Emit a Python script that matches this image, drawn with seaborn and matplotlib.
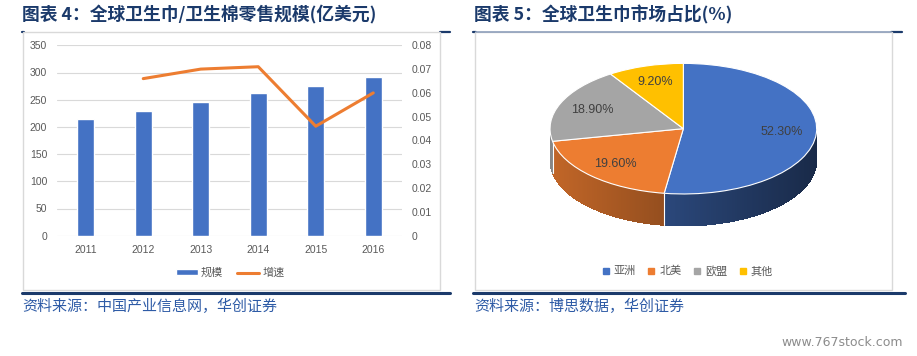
import matplotlib
matplotlib.use("Agg")
import numpy as np
import pandas as pd
import matplotlib.pyplot as plt
import seaborn as sns
from matplotlib.patches import Rectangle, Polygon
from matplotlib.lines import Line2D
from matplotlib.ticker import FuncFormatter, MultipleLocator

# data
years = ["2011", "2012", "2013", "2014", "2015", "2016"]
scale = [215, 229, 246, 263, 276, 291]          # 规模, 亿美元
growth_years = ["2012", "2013", "2014", "2015", "2016"]
growth = [0.066, 0.070, 0.071, 0.046, 0.060]    # 增速

regions = ["亚洲", "北美", "欧盟", "其他"]
shares = [52.3, 19.6, 18.9, 9.2]
colors = ["#4472C4", "#ED7D31", "#A5A5A5", "#FFC000"]

sns.set_style("white")
plt.rcParams["font.family"] = ["Liberation Sans", "Noto Sans CJK SC", "DejaVu Sans"]

W, H = 917, 356
fig = plt.figure(figsize=(W / 100, H / 100), dpi=100)


def fx(x):
    return x / W


def fy(y):
    return 1 - y / H


NAVY = "#1B3A6B"
CJK = ["Noto Sans CJK SC", "DejaVu Sans"]

# frames around the two panels (navy rule only shows beside the boxes)
for x0, x1 in [(22, 24), (440, 450), (473, 476), (891, 902)]:
    fig.add_artist(Line2D([fx(x0), fx(x1)], [fy(31.5), fy(31.5)], color=NAVY, lw=1.6, zorder=-3))
for x0, x1 in [(22, 450), (473, 905)]:
    fig.add_artist(Line2D([fx(x0), fx(x1)], [fy(292.5), fy(292.5)], color=NAVY, lw=2.2, zorder=-3))
for x0, x1 in [(23, 440), (475, 892)]:
    fig.add_artist(Rectangle((fx(x0), fy(290)), fx(x1) - fx(x0), fy(32) - fy(290),
                             transform=fig.transFigure, fc="white", ec="#D9D9D9", lw=1, zorder=-2))
fig.add_artist(Line2D([fx(476), fx(891)], [fy(32), fy(32)], color="#8FA0BC", lw=1.2, zorder=-1))

# titles and sources
fig.text(fx(22), fy(15), "图表 4：全球卫生巾/卫生棉零售规模(亿美元)", fontsize=12.8, fontweight="bold",
         color=NAVY, family=CJK, va="center", ha="left")
fig.text(fx(474), fy(15), "图表 5：全球卫生巾市场占比(%)", fontsize=12.8, fontweight="bold",
         color=NAVY, family=CJK, va="center", ha="left")
fig.text(fx(22), fy(306), "资料来源：中国产业信息网，华创证券", fontsize=10.8, color="#2E5BA6",
         style="italic", family=CJK, va="center", ha="left")
fig.text(fx(474), fy(306), "资料来源：博思数据，华创证券", fontsize=10.8, color="#2E5BA6",
         style="italic", family=CJK, va="center", ha="left")
fig.text(fx(903), fy(343), "www.767stock.com", fontsize=9, color="#8C8C8C", ha="right", va="center",
         family=["DejaVu Sans"])

# ---- bar + line chart ----
ax1 = fig.add_axes([fx(57), fy(235.7), fx(402) - fx(57), fy(45.3) - fy(235.7)])
ax1.patch.set_alpha(0)
df = pd.DataFrame({"year": years, "scale": scale})
sns.barplot(data=df, x="year", y="scale", color="#4472C4", width=0.3, saturation=1, ax=ax1)
ax1.set_xlim(-0.5, len(years) - 0.5)
ax1.set_ylim(0, 350)
ax1.yaxis.set_major_locator(MultipleLocator(50))
ax1.grid(axis="y", color="#D9D9D9", lw=0.8)
ax1.set_axisbelow(True)
ax1.set_xlabel("")
ax1.set_ylabel("")
for s in ax1.spines.values():
    s.set_visible(False)
ax1.tick_params(axis="y", length=0, labelsize=7.5, labelcolor="#595959", pad=7)
ax1.tick_params(axis="x", length=0, labelsize=7.5, labelcolor="#595959", pad=7)

ax2 = ax1.twinx()
ax2.patch.set_alpha(0)
sns.lineplot(x=[years.index(y) for y in growth_years], y=growth, ax=ax2, color="#ED7D31", lw=2.2)
ax2.set_ylim(0, 0.08)
ax2.yaxis.set_major_locator(MultipleLocator(0.01))
ax2.yaxis.set_major_formatter(FuncFormatter(lambda v, p: f"{v:.2f}" if abs(v) > 1e-9 else "0"))
ax2.grid(False)
for s in ax2.spines.values():
    s.set_visible(False)
ax2.tick_params(axis="y", length=0, labelsize=7.5, labelcolor="#595959", pad=7)

fig.legend([Rectangle((0, 0), 1, 1, fc="#4472C4"), Line2D([], [], color="#ED7D31", lw=2.2)],
           ["规模", "增速"], loc="center", bbox_to_anchor=(fx(230), fy(273)), ncol=2, frameon=False,
           fontsize=8, labelcolor="#595959", handlelength=2.0, handleheight=0.5,
           columnspacing=1.2, handletextpad=0.3)

# ---- pie chart (tilted, with a side wall) ----
axp = fig.add_axes([fx(516.7), fy(246.2), fx(850) - fx(516.7), fy(43.8) - fy(246.2)])
axp.patch.set_alpha(0)
wedges, texts, autotexts = axp.pie(
    shares, colors=colors, startangle=90, counterclock=False, autopct="%.2f%%",
    pctdistance=0.74, wedgeprops=dict(edgecolor="white", linewidth=0.8),
    textprops=dict(color="#404040", fontsize=9))
axp.set_aspect("auto")
axp.set_xlim(-1.25, 1.25)
axp.set_ylim(-1.8, 1.3)
axp.axis("off")

depth = 0.49
bounds = 90 - np.cumsum([0] + shares) * 3.6
for i, c in enumerate(colors):
    ts = np.linspace(bounds[i + 1], bounds[i], 240)
    ts = ts[np.sin(np.radians(ts)) < 0]
    if len(ts) < 2:
        continue
    base = np.array(matplotlib.colors.to_rgb(c))
    for a, b in zip(ts[:-1], ts[1:]):
        ra, rb = np.radians(a), np.radians(b)
        xm = np.cos((ra + rb) / 2)
        shade = 0.82 - 0.45 * (xm + 1) / 2
        col = np.clip(base * shade, 0, 1)
        poly = [(np.cos(ra), np.sin(ra)), (np.cos(rb), np.sin(rb)),
                (np.cos(rb), np.sin(rb) - depth), (np.cos(ra), np.sin(ra) - depth)]
        axp.add_patch(Polygon(poly, closed=True, fc=col, ec="none", antialiased=False, zorder=0.5))
for t in bounds[1:-1]:
    r = np.radians(t)
    if np.sin(r) < 0:
        axp.plot([np.cos(r)] * 2, [np.sin(r), np.sin(r) - depth], color="white", lw=0.8, zorder=0.6)

fig.legend([Line2D([], [], marker="s", ls="", color=c, markersize=4) for c in colors], regions,
           loc="center", bbox_to_anchor=(fx(687), fy(271)), ncol=4, frameon=False, fontsize=8,
           labelcolor="#595959", handlelength=0.8, handletextpad=0.3, columnspacing=1.0)

fig.savefig("out.png", dpi=100)
